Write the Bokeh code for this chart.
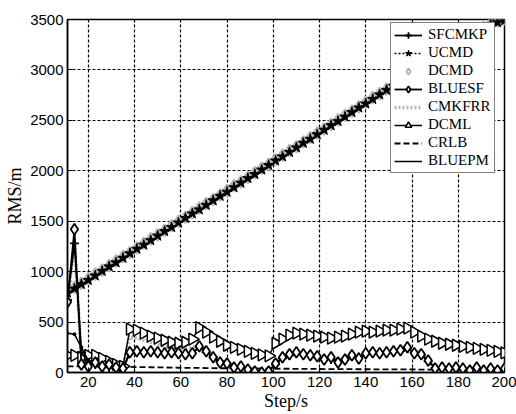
import numpy as np
from bokeh.plotting import figure
from bokeh.models import Legend, LegendItem, Range1d, FixedTicker
from bokeh.embed import file_html
from bokeh.resources import INLINE

steps = [11, 14, 17, 20, 23, 26, 29, 32, 35, 38, 41, 44, 47, 50, 53, 56, 59, 62, 65, 68,
         71, 74, 77, 80, 83, 86, 89, 92, 95, 98, 101, 104, 107, 110, 113, 116, 119, 122,
         125, 128, 131, 134, 137, 140, 143, 146, 149, 152, 155, 158, 161, 164, 167, 170,
         173, 176, 179, 182, 185, 188, 191, 194, 197, 200]

ucmd = [790, 830, 875, 915, 960, 1005, 1050, 1090, 1135, 1180, 1225, 1265, 1310, 1355,
        1400, 1440, 1485, 1530, 1575, 1615, 1660, 1705, 1750, 1790, 1835, 1880, 1925,
        1965, 2010, 2055, 2100, 2140, 2185, 2230, 2275, 2315, 2360, 2405, 2450, 2490,
        2535, 2580, 2625, 2665, 2710, 2755, 2800, 2840, 2885, 2930, 2975, 3015, 3060,
        3105, 3150, 3190, 3235, 3280, 3325, 3365, 3410, 3450, 3470, 3490]

dcmd = [800, 845, 885, 930, 975, 1015, 1060, 1105, 1150, 1190, 1235, 1280, 1325, 1365,
        1410, 1455, 1500, 1540, 1585, 1630, 1675, 1715, 1760, 1805, 1850, 1890, 1935,
        1980, 2025, 2065, 2110, 2155, 2200, 2240, 2285, 2330, 2375, 2415, 2460, 2505,
        2550, 2590, 2635, 2680, 2725, 2765, 2810, 2855, 2900, 2940, 2985, 3030, 3075,
        3115, 3160, 3205, 3250, 3290, 3335, 3380, 3420, 3460, 3485, 3500]

bluesf = [700, 1420, 80, 60, 100, 60, 80, 50, 40, 200, 210, 200, 210, 200, 190, 200, 190,
          180, 190, 260, 210, 150, 100, 90, 50, 60, 30, 10, 0, 10, 90, 150, 180, 200, 180,
          170, 160, 130, 150, 100, 130, 170, 140, 190, 200, 190, 200, 210, 220, 250, 190,
          180, 120, 40, 50, 40, 50, 40, 20, 50, 20, 40, 20, 40]

sfcmkp = [720, 1280, 200, 100, 80, 60, 50, 40, 40, 190, 200, 200, 200, 195, 190, 195,
          185, 180, 190, 250, 200, 150, 110, 80, 60, 50, 30, 10, 5, 10, 80, 140, 170, 190,
          180, 170, 150, 140, 130, 110, 130, 160, 150, 180, 190, 195, 200, 205, 215, 240,
          195, 175, 110, 45, 45, 40, 45, 35, 25, 45, 25, 35, 25, 35]

bluepm = [390, 380, 250, 120, 100, 80, 60, 50, 40, 200, 205, 200, 205, 200, 190, 195,
          185, 180, 185, 255, 205, 150, 105, 85, 55, 55, 30, 10, 5, 10, 85, 145, 175, 195,
          180, 170, 155, 135, 140, 105, 130, 165, 145, 185, 195, 190, 200, 205, 215, 245,
          190, 175, 115, 40, 45, 40, 45, 40, 25, 45, 25, 35, 25, 35]

cmkfrr = [700, 1300, 150, 100, 90, 70, 60, 50, 60, 350, 340, 320, 300, 280, 260, 250,
          240, 230, 250, 280, 230, 170, 120, 100, 70, 60, 40, 20, 10, 20, 100, 150, 180,
          190, 180, 170, 160, 150, 140, 130, 140, 160, 170, 180, 190, 200, 200, 210, 220,
          240, 230, 200, 130, 60, 50, 40, 40, 35, 35, 30, 30, 30, 30, 30]

dcml = [170, 170, 150, 170, 170, 140, 110, 80, 60, 430, 420, 390, 360, 340, 320, 300,
        290, 300, 330, 445, 400, 350, 310, 270, 250, 230, 210, 190, 175, 165, 290, 330,
        370, 390, 380, 370, 360, 350, 340, 350, 360, 380, 400, 410, 400, 410, 420, 420,
        430, 440, 400, 360, 330, 310, 290, 280, 270, 260, 250, 240, 230, 220, 210, 195]

crlb = [60, 60, 60, 60, 60, 58, 58, 56, 56, 55, 54, 53, 52, 50, 50, 48, 47, 46, 45, 45,
        44, 43, 42, 42, 41, 40, 40, 40, 39, 38, 38, 37, 37, 36, 36, 35, 35, 34, 34, 34,
        33, 33, 32, 32, 32, 31, 31, 31, 30, 30, 30, 29, 29, 29, 28, 28, 28, 27, 27, 27,
        26, 26, 26, 25]

x_ticks = [20, 40, 60, 80, 100, 120, 140, 160, 180, 200]
y_ticks = [0, 500, 1000, 1500, 2000, 2500, 3000, 3500]

p = figure(width=516, height=414, output_backend="svg", toolbar_location=None,
           x_range=Range1d(11, 200), y_range=Range1d(0, 3500),
           min_border_left=67, min_border_right=12, min_border_top=19,
           min_border_bottom=42)
p.background_fill_color = "white"
p.border_fill_color = "white"
p.outline_line_color = "black"
p.outline_line_width = 1.5

for ax in (p.xaxis[0], p.yaxis[0]):
    ax.major_label_text_font = "Liberation Sans"
    ax.major_label_text_font_size = "15px"
    ax.major_label_text_color = "black"
    ax.axis_label_text_font = "Liberation Serif"
    ax.axis_label_text_font_size = "18px"
    ax.axis_label_text_font_style = "normal"
    ax.axis_label_text_color = "black"
    ax.major_tick_in = 5
    ax.major_tick_out = 0
    ax.minor_tick_in = 0
    ax.minor_tick_out = 0
    ax.axis_line_color = "black"
    ax.axis_line_width = 1.5
    ax.major_tick_line_color = "black"
    ax.major_label_standoff = 4
p.xaxis[0].ticker = FixedTicker(ticks=x_ticks)
p.yaxis[0].ticker = FixedTicker(ticks=y_ticks)
p.xaxis[0].axis_label = "Step/s"
p.yaxis[0].axis_label = "RMS/m"
p.xaxis[0].axis_label_standoff = 1
p.yaxis[0].axis_label_standoff = 2

for g in (p.xgrid[0], p.ygrid[0]):
    g.grid_line_color = "black"
    g.grid_line_dash = "3 2"
    g.grid_line_width = 1.2
p.xgrid[0].ticker = FixedTicker(ticks=x_ticks)
p.ygrid[0].ticker = FixedTicker(ticks=y_ticks)

# DCMD (gray diamonds) and CMKFRR (gray dotted) drawn beneath
r_dcmd = p.scatter(steps, dcmd, marker="diamond", size=12, line_color="#b5b5b5",
                   fill_color="white", line_width=2)
r_cmk = p.line(steps, cmkfrr, line_color="#b8b8b8", line_width=3.5, line_dash="2 2")

r_ucmd_l = p.line(steps, ucmd, line_color="black", line_width=1.5, line_dash="2 2")
r_ucmd_m = p.scatter(steps, ucmd, marker="star", size=11, line_color="black",
                     fill_color="black")

r_crlb = p.line(steps, crlb, line_color="black", line_width=1.8, line_dash="6 3")

r_dcml_l = p.line(steps, dcml, line_color="black", line_width=1.5)
r_dcml_m = p.scatter(steps, dcml, marker="triangle", angle=-np.pi / 2, size=12,
                     line_color="black", fill_color="white", line_width=1.5)

r_bpm_l = p.line(steps, bluepm, line_color="black", line_width=1.5)
r_bpm_m = p.scatter(steps, bluepm, marker="circle", size=3, line_color="black",
                    fill_color="black")

r_sf_l = p.line(steps, sfcmkp, line_color="black", line_width=1.8)
r_sf_m = p.scatter(steps, sfcmkp, marker="cross", size=9, line_color="black",
                   line_width=1.8)

r_bs_l = p.line(steps, bluesf, line_color="black", line_width=1.8)
r_bs_m = p.scatter(steps, bluesf, marker="diamond", size=11, line_color="black",
                   fill_color="white", line_width=1.8)

legend = Legend(items=[
    LegendItem(label="SFCMKP", renderers=[r_sf_l, r_sf_m]),
    LegendItem(label="UCMD", renderers=[r_ucmd_l, r_ucmd_m]),
    LegendItem(label="DCMD", renderers=[r_dcmd]),
    LegendItem(label="BLUESF", renderers=[r_bs_l, r_bs_m]),
    LegendItem(label="CMKFRR", renderers=[r_cmk]),
    LegendItem(label="DCML", renderers=[r_dcml_l, r_dcml_m]),
    LegendItem(label="CRLB", renderers=[r_crlb]),
    LegendItem(label="BLUEPM", renderers=[r_bpm_l]),
])
legend.location = (323, 199)
legend.label_text_font = "Liberation Serif"
legend.label_text_font_size = "15px"
legend.label_text_color = "black"
legend.label_height = 16
legend.glyph_height = 16
legend.glyph_width = 28
legend.label_standoff = 6
legend.spacing = 1
legend.padding = 3
legend.margin = 0
legend.border_line_color = "black"
legend.border_line_width = 1.2
legend.background_fill_color = "white"
legend.background_fill_alpha = 1.0
p.add_layout(legend, "center")

open("out.html", "w").write(file_html(p, INLINE))
